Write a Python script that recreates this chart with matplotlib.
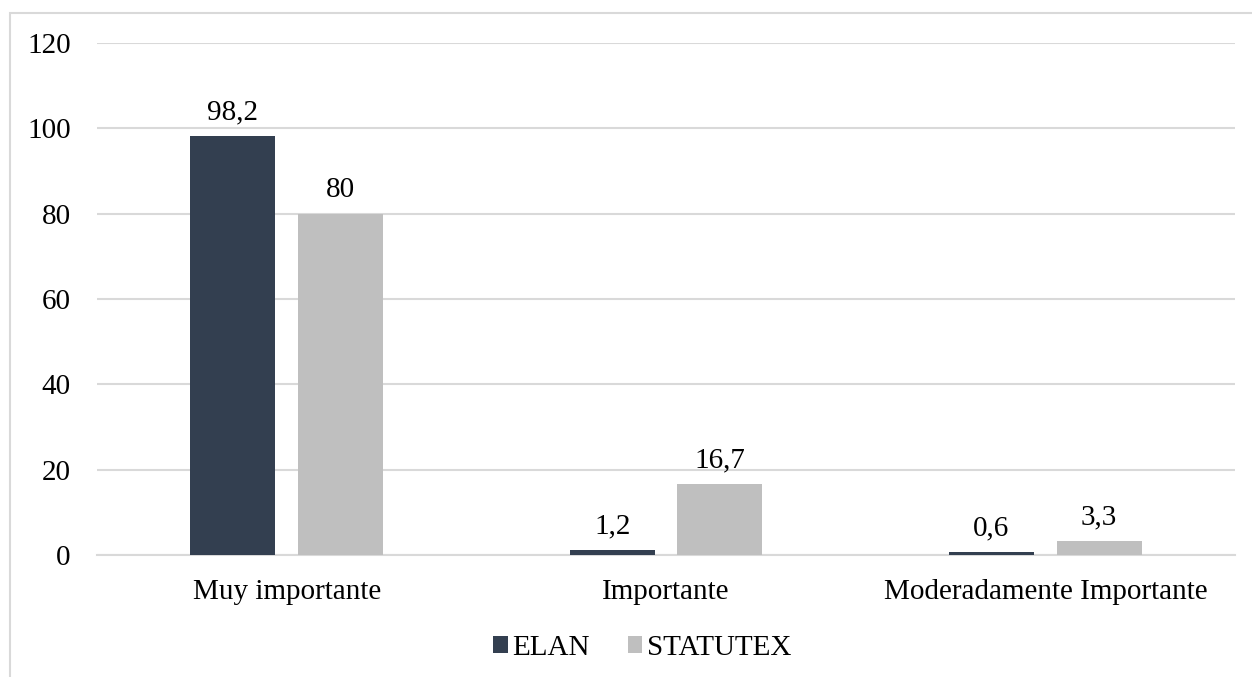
import matplotlib
matplotlib.use("Agg")
import matplotlib.pyplot as plt
from matplotlib.patches import Rectangle
import numpy as np

categories = ["Muy importante", "Importante", "Moderadamente Importante"]
elan = [98.2, 1.2, 0.6]
statutex = [80, 16.7, 3.3]
series_names = ["ELAN", "STATUTEX"]
yticks = [0, 20, 40, 60, 80, 100, 120]

plt.rcParams["font.family"] = ["Liberation Serif", "DejaVu Serif"]
FS = 21

fig = plt.figure(figsize=(12.52, 6.77), dpi=100)
ax = fig.add_axes([0.0775, 0.1802, 0.9089, 0.7563])

# chart frame, clipped at the right and bottom edges
fig.patches.append(Rectangle((10 / 1252, -0.05), 1.2, 1 - 13 / 677 + 0.05,
                             transform=fig.transFigure, fill=False,
                             edgecolor="#d9d9d9", linewidth=1.5))

x = np.arange(len(categories))
w = 0.224
off = 0.142
b1 = ax.bar(x - off, elan, w, color="#333F50", label=series_names[0], zorder=3)
b2 = ax.bar(x + off, statutex, w, color="#BFBFBF", label=series_names[1], zorder=3)

def fmt(v):
    return ("%g" % v).replace(".", ",")

for bars, vals in ((b1, elan), (b2, statutex)):
    for r, v in zip(bars, vals):
        ax.annotate(fmt(v), (r.get_x() + r.get_width() / 2, v),
                    xytext=(0, 12), textcoords="offset points",
                    ha="center", va="baseline", fontsize=FS, color="#000000")

ax.set_xlim(-0.5, 2.5)
ax.set_ylim(0, 120)
ax.set_yticks(yticks)
ax.set_yticklabels([str(t) for t in yticks])
ax.set_xticks(x)
ax.set_xticklabels(categories)
ax.tick_params(axis="both", length=0, labelsize=FS, colors="#000000")
ax.tick_params(axis="y", pad=19)
ax.tick_params(axis="x", pad=17)
ax.grid(axis="y", color="#d9d9d9", linewidth=1.5, zorder=0)
for s in ("top", "right", "left"):
    ax.spines[s].set_visible(False)
ax.spines["bottom"].set_color("#d9d9d9")
ax.spines["bottom"].set_linewidth(1.5)

fig.legend(loc="center", bbox_to_anchor=(0.513, 1 - 648 / 677), ncol=2,
           frameon=False, fontsize=FS, handlelength=0.5, handleheight=0.5,
           handletextpad=0.15, columnspacing=1.3)

fig.savefig("out.png", dpi=100)
